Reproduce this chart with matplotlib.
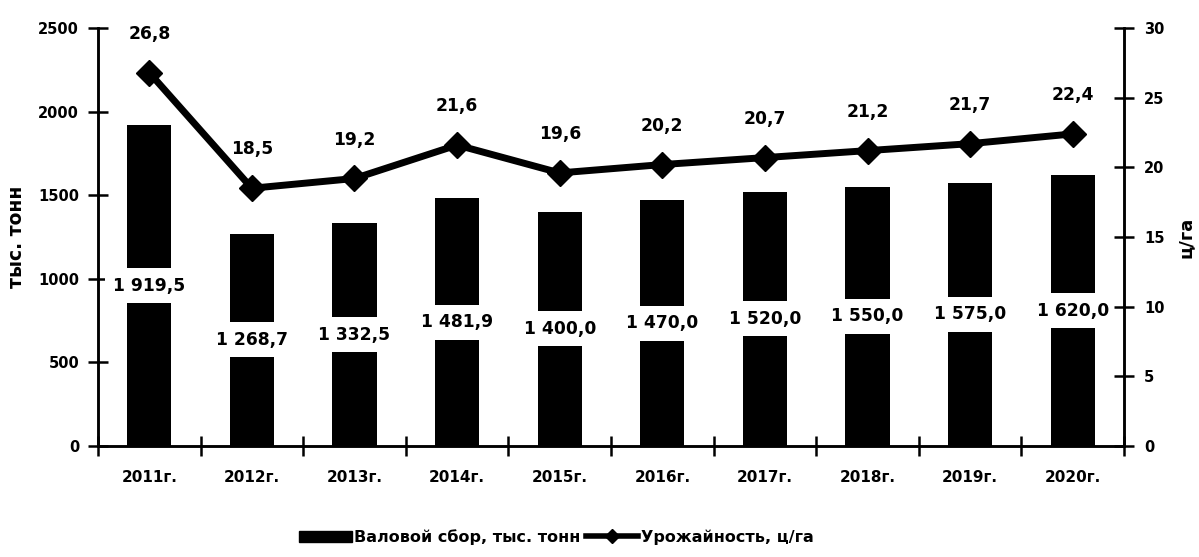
import matplotlib
matplotlib.use("Agg")
from matplotlib import pyplot as plt
from matplotlib.lines import Line2D
from matplotlib.patches import Patch

plt.rcParams['font.family'] = ['DejaVu Sans']
plt.rcParams['font.weight'] = 'bold'

# data
years = ['2011г.', '2012г.', '2013г.', '2014г.', '2015г.',
         '2016г.', '2017г.', '2018г.', '2019г.', '2020г.']
harvest = [1919.5, 1268.7, 1332.5, 1481.9, 1400.0, 1470.0, 1520.0, 1550.0, 1575.0, 1620.0]
crop_yield = [26.8, 18.5, 19.2, 21.6, 19.6, 20.2, 20.7, 21.2, 21.7, 22.4]

harvest_label = 'Валовой сбор, тыс. тонн'
yield_label = 'Урожайность, ц/га'


def fmt(v):
    return '{:,.1f}'.format(v).replace(',', ' ').replace('.', ',')


fig = plt.figure(figsize=(11.99, 5.57), dpi=100)
ax = fig.add_axes([0.0817, 0.1993, 0.8558, 0.7504])
ax2 = ax.twinx()

x = list(range(len(years)))

ax.bar(x, harvest, width=0.43, color='black', zorder=2)
for i, v in enumerate(harvest):
    ax.text(i, v / 2, fmt(v), ha='center', va='center', fontsize=12.3, fontweight='bold',
            bbox=dict(boxstyle='square,pad=0.5', fc='white', ec='none'), zorder=3)

ax2.plot(x, crop_yield, '-D', color='black', lw=5, markersize=13, zorder=4)
for i, v in enumerate(crop_yield):
    ax2.annotate(fmt(v), (i, v), xytext=(0, 28), textcoords='offset points',
                 ha='center', va='center', fontsize=12.3, fontweight='bold')

ax.set_xlim(-0.5, 9.5)
ax.set_ylim(0, 2500)
ax2.set_ylim(0, 30)
ax.set_yticks([0, 500, 1000, 1500, 2000, 2500])
ax2.set_yticks([0, 5, 10, 15, 20, 25, 30])

# category boundaries as major ticks, year names on minor ticks
ax.set_xticks([i - 0.5 for i in range(len(years) + 1)])
ax.set_xticklabels([])
ax.set_xticks(x, minor=True)
ax.set_xticklabels(years, minor=True, fontsize=11, fontweight='bold')
ax.tick_params(axis='x', which='minor', length=0, pad=17)
ax.tick_params(axis='x', which='major', direction='inout', length=14, width=1.8)

ax.tick_params(axis='y', direction='inout', length=14, width=1.8, labelsize=10.5, pad=6.5)
ax2.tick_params(axis='y', direction='inout', length=15, width=1.8, labelsize=10.5, pad=7)

for a in (ax, ax2):
    a.spines['top'].set_visible(False)
    for s in ('left', 'right', 'bottom'):
        a.spines[s].set_linewidth(1.8)
    a.set_facecolor('none')

ax.set_ylabel('тыс. тонн', fontsize=13.5, fontweight='bold', labelpad=9)
ax2.set_ylabel('ц/га', fontsize=13, fontweight='bold', labelpad=9)

handles = [Patch(facecolor='black', edgecolor='black'),
           Line2D([], [], color='black', lw=4, marker='D', markersize=7)]
fig.legend(handles, [harvest_label, yield_label], loc='center', bbox_to_anchor=(0.464, 0.036),
           ncol=2, frameon=False, handlelength=3.3, handletextpad=0.15,
           columnspacing=0.3, prop={'weight': 'bold', 'size': 11.5})

fig.savefig('out.png', dpi=100)
